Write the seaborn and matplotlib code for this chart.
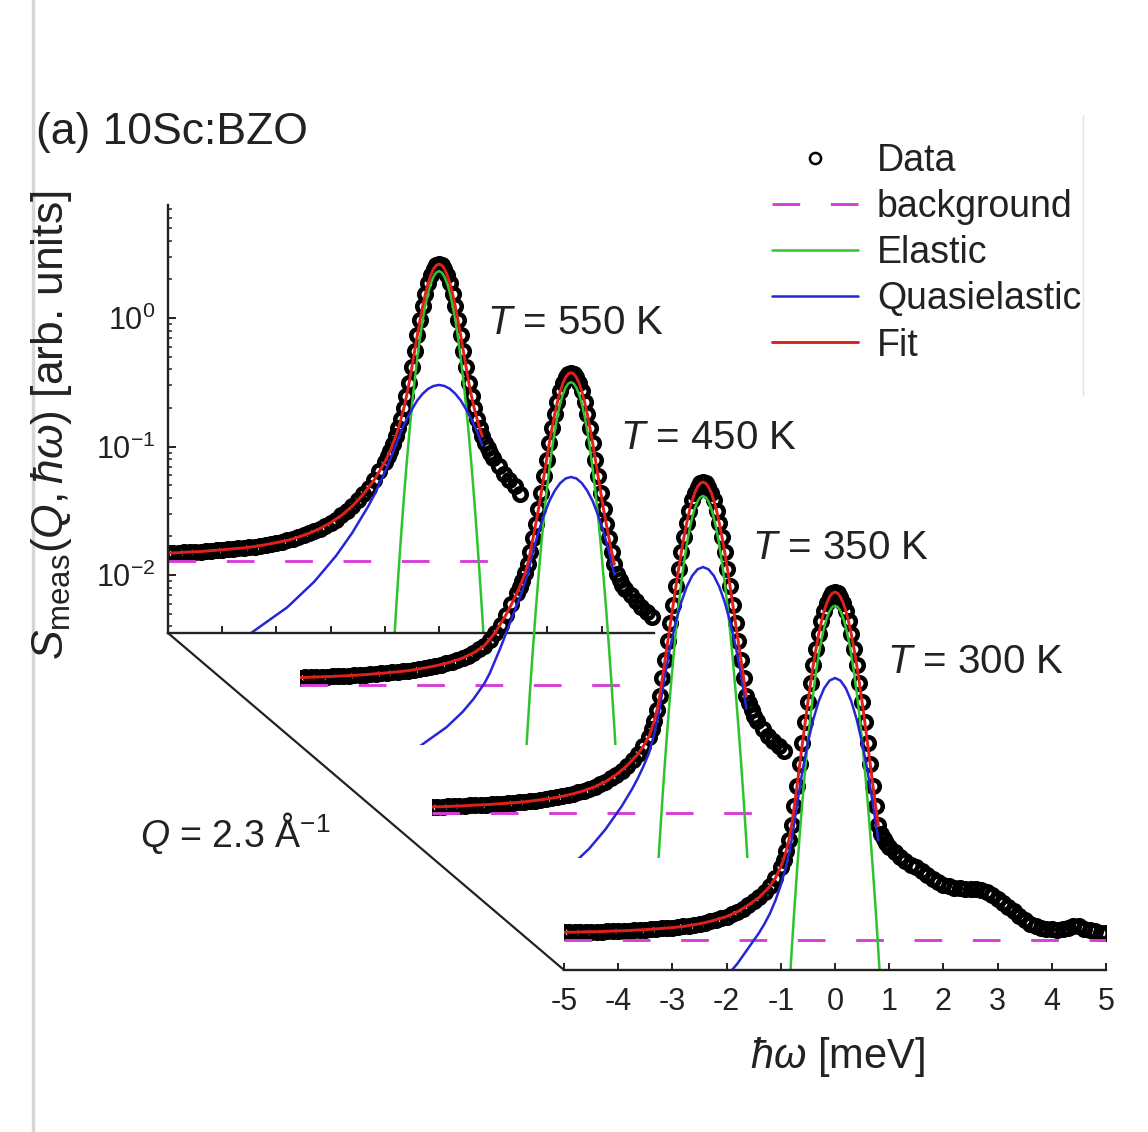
import numpy as np
import matplotlib
matplotlib.use("Agg")
import matplotlib.pyplot as plt
import seaborn as sns
from matplotlib.lines import Line2D
from matplotlib.ticker import FixedLocator, LogLocator, NullFormatter

# ---------------- data (log10 of S_meas) ----------------
temperatures = ["550", "450", "350", "300"]
t_labels = [r"$T$ = 550 K", r"$T$ = 450 K", r"$T$ = 350 K", r"$T$ = 300 K"]

# energy samplings (meV)
E_back = np.round(np.concatenate([np.arange(-5.0, -1.05, 0.1), np.arange(-1.0, 1.001, 0.05),
                                  np.arange(1.1, 1.51, 0.1)]), 2)
E_front = np.round(np.concatenate([np.arange(-5.0, -1.05, 0.1), np.arange(-1.0, 1.001, 0.05),
                                   np.arange(1.1, 5.01, 0.1)]), 2)
E_fit = np.round(np.concatenate([np.arange(-5.0, -1.15, 0.2), [-1.1], np.arange(-1.0, 0.801, 0.05)]), 2)
E_el = np.round(np.arange(-0.9, 0.901, 0.05), 2)
qe_start = [-3.6, -2.9, -2.4, -2.0]

# measured data, log10 S
data_550 = [-1.829, -1.827, -1.825, -1.823, -1.820, -1.818, -1.816, -1.812, -1.809, -1.806,
            -1.803, -1.799, -1.795, -1.792, -1.788, -1.784, -1.777, -1.770, -1.763, -1.755,
            -1.747, -1.739, -1.730, -1.718, -1.704, -1.690, -1.675, -1.659, -1.638, -1.616,
            -1.592, -1.567, -1.535, -1.500, -1.463, -1.419, -1.372, -1.321, -1.262, -1.192,
            -1.119, -1.076, -1.032, -0.977, -0.920, -0.857, -0.783, -0.703, -0.608, -0.502,
            -0.382, -0.258, -0.134, -0.015, 0.094, 0.190, 0.272, 0.336, 0.383, 0.411,
            0.420,
            0.411, 0.383, 0.336, 0.272, 0.190, 0.094, -0.015, -0.134, -0.258, -0.382,
            -0.502, -0.608, -0.703, -0.783, -0.857, -0.920, -0.970, -1.010, -1.050, -1.090,
            -1.150, -1.210, -1.260, -1.310, -1.370]
data_450 = [-1.923, -1.922, -1.920, -1.919, -1.917, -1.915, -1.914, -1.911, -1.910, -1.907,
            -1.905, -1.902, -1.900, -1.897, -1.893, -1.890, -1.886, -1.882, -1.878, -1.874,
            -1.869, -1.863, -1.855, -1.848, -1.840, -1.831, -1.822, -1.813, -1.800, -1.786,
            -1.771, -1.752, -1.731, -1.703, -1.675, -1.632, -1.574, -1.511, -1.435, -1.354,
            -1.267, -1.220, -1.171, -1.113, -1.041, -0.944, -0.837, -0.726, -0.612, -0.486,
            -0.357, -0.227, -0.099, 0.019, 0.128, 0.223, 0.303, 0.367, 0.413, 0.440,
            0.450,
            0.440, 0.413, 0.367, 0.303, 0.223, 0.128, 0.019, -0.099, -0.227, -0.357,
            -0.486, -0.612, -0.726, -0.837, -0.944, -1.041, -1.120, -1.160, -1.200, -1.230,
            -1.280, -1.330, -1.370, -1.410, -1.450]
data_350 = [-2.055, -2.054, -2.053, -2.051, -2.050, -2.048, -2.046, -2.044, -2.041, -2.040,
            -2.038, -2.035, -2.032, -2.029, -2.026, -2.023, -2.020, -2.016, -2.011, -2.007,
            -2.000, -1.994, -1.988, -1.980, -1.973, -1.965, -1.954, -1.943, -1.930, -1.917,
            -1.899, -1.879, -1.859, -1.832, -1.804, -1.773, -1.734, -1.693, -1.643, -1.582,
            -1.509, -1.452, -1.385, -1.302, -1.194, -1.051, -0.909, -0.768, -0.625, -0.482,
            -0.340, -0.203, -0.073, 0.047, 0.155, 0.250, 0.329, 0.391, 0.436, 0.463,
            0.472,
            0.463, 0.436, 0.391, 0.329, 0.250, 0.155, 0.047, -0.073, -0.203, -0.340,
            -0.482, -0.625, -0.768, -0.909, -1.051, -1.194, -1.250, -1.300, -1.350, -1.390,
            -1.450, -1.500, -1.540, -1.580, -1.620]
data_300 = [-2.157, -2.156, -2.156, -2.154, -2.153, -2.153, -2.152, -2.151, -2.149, -2.148,
            -2.146, -2.144, -2.143, -2.140, -2.138, -2.137, -2.133, -2.131, -2.127, -2.124,
            -2.120, -2.116, -2.111, -2.105, -2.098, -2.090, -2.082, -2.072, -2.060, -2.047,
            -2.034, -2.016, -1.997, -1.972, -1.945, -1.917, -1.885, -1.846, -1.799, -1.734,
            -1.646, -1.592, -1.521, -1.436, -1.323, -1.175, -1.015, -0.849, -0.684, -0.522,
            -0.365, -0.215, -0.076, 0.051, 0.164, 0.262, 0.343, 0.407, 0.453, 0.481,
            0.490,
            0.481, 0.453, 0.407, 0.343, 0.262, 0.164, 0.051, -0.076, -0.215, -0.365,
            -0.522, -0.684, -0.849, -1.015, -1.175, -1.323, -1.390, -1.430, -1.460, -1.490,
            -1.530, -1.570, -1.600, -1.630, -1.650, -1.680, -1.710, -1.740, -1.765, -1.790,
            -1.800, -1.810, -1.815, -1.820, -1.820, -1.820, -1.830, -1.845, -1.870, -1.900,
            -1.930, -1.960, -1.990, -2.030, -2.060, -2.090, -2.110, -2.120, -2.130, -2.130,
            -2.140, -2.130, -2.120, -2.110, -2.110, -2.130, -2.140, -2.150, -2.160, -2.160]

# fitted total, log10 S
fit_550 = [-1.829, -1.825, -1.820, -1.816, -1.809, -1.803, -1.795, -1.788, -1.777, -1.763,
           -1.747, -1.730, -1.704, -1.675, -1.638, -1.592, -1.535, -1.463, -1.372, -1.262,
           -1.192,
           -1.119, -1.076, -1.032, -0.977, -0.920, -0.857, -0.783, -0.703, -0.608, -0.502,
           -0.382, -0.258, -0.134, -0.015, 0.094, 0.190, 0.272, 0.336, 0.383, 0.411,
           0.420, 0.411, 0.383, 0.336, 0.272, 0.190, 0.094, -0.015, -0.134, -0.258,
           -0.382, -0.502, -0.608, -0.703, -0.783, -0.857, -0.920]
fit_450 = [-1.923, -1.920, -1.917, -1.914, -1.910, -1.905, -1.900, -1.893, -1.886, -1.878,
           -1.869, -1.855, -1.840, -1.822, -1.800, -1.771, -1.731, -1.675, -1.574, -1.435,
           -1.354,
           -1.267, -1.220, -1.171, -1.113, -1.041, -0.944, -0.837, -0.726, -0.612, -0.486,
           -0.357, -0.227, -0.099, 0.019, 0.128, 0.223, 0.303, 0.367, 0.413, 0.440,
           0.450, 0.440, 0.413, 0.367, 0.303, 0.223, 0.128, 0.019, -0.099, -0.227,
           -0.357, -0.486, -0.612, -0.726, -0.837, -0.944, -1.041]
fit_350 = [-2.055, -2.053, -2.050, -2.046, -2.041, -2.038, -2.032, -2.026, -2.020, -2.011,
           -2.000, -1.988, -1.973, -1.954, -1.930, -1.899, -1.859, -1.804, -1.734, -1.643,
           -1.582,
           -1.509, -1.452, -1.385, -1.302, -1.194, -1.051, -0.909, -0.768, -0.625, -0.482,
           -0.340, -0.203, -0.073, 0.047, 0.155, 0.250, 0.329, 0.391, 0.436, 0.463,
           0.472, 0.463, 0.436, 0.391, 0.329, 0.250, 0.155, 0.047, -0.073, -0.203,
           -0.340, -0.482, -0.625, -0.768, -0.909, -1.051, -1.194]
fit_300 = [-2.157, -2.156, -2.153, -2.152, -2.149, -2.146, -2.143, -2.138, -2.133, -2.127,
           -2.120, -2.111, -2.098, -2.082, -2.060, -2.034, -1.997, -1.945, -1.885, -1.799,
           -1.734,
           -1.646, -1.592, -1.521, -1.436, -1.323, -1.175, -1.015, -0.849, -0.684, -0.522,
           -0.365, -0.215, -0.076, 0.051, 0.164, 0.262, 0.343, 0.407, 0.453, 0.481,
           0.490, 0.481, 0.453, 0.407, 0.343, 0.262, 0.164, 0.051, -0.076, -0.215,
           -0.365, -0.522, -0.684, -0.849, -1.015, -1.175, -1.323]

# elastic component, log10 S (on E_el)
el_550 = [-3.037, -2.670, -2.323, -1.998, -1.693, -1.410, -1.147, -0.906, -0.685, -0.486,
          -0.307, -0.150, -0.013, 0.103, 0.197, 0.271, 0.323, 0.355, 0.365, 0.355,
          0.323, 0.271, 0.197, 0.103, -0.013, -0.150, -0.307, -0.486, -0.685, -0.906,
          -1.147, -1.410, -1.693, -1.998, -2.323, -2.670, -3.037]
el_450 = [-3.027, -2.660, -2.313, -1.988, -1.683, -1.400, -1.137, -0.896, -0.675, -0.476,
          -0.297, -0.140, -0.003, 0.113, 0.207, 0.281, 0.333, 0.365, 0.375, 0.365,
          0.333, 0.281, 0.207, 0.113, -0.003, -0.140, -0.297, -0.476, -0.675, -0.896,
          -1.137, -1.400, -1.683, -1.988, -2.313, -2.660, -3.027]
el_350 = [-3.038, -2.671, -2.324, -1.999, -1.694, -1.411, -1.148, -0.907, -0.686, -0.487,
          -0.308, -0.151, -0.014, 0.102, 0.196, 0.270, 0.322, 0.354, 0.364, 0.354,
          0.322, 0.270, 0.196, 0.102, -0.014, -0.151, -0.308, -0.487, -0.686, -0.907,
          -1.148, -1.411, -1.694, -1.999, -2.324, -2.671, -3.038]
el_300 = [-3.018, -2.651, -2.304, -1.979, -1.674, -1.391, -1.128, -0.887, -0.666, -0.467,
          -0.288, -0.131, 0.006, 0.122, 0.216, 0.290, 0.342, 0.374, 0.384, 0.374,
          0.342, 0.290, 0.216, 0.122, 0.006, -0.131, -0.288, -0.467, -0.666, -0.887,
          -1.128, -1.391, -1.674, -1.979, -2.304, -2.651, -3.018]

# quasielastic component, log10 S (from qe_start to 0.8 meV, step 0.1)
qe_550 = [-2.48, -2.46, -2.43, -2.40, -2.37, -2.34, -2.31, -2.28, -2.25, -2.21,
          -2.17, -2.13, -2.09, -2.05, -2.00, -1.95, -1.90, -1.85, -1.79, -1.73,
          -1.67, -1.60, -1.53, -1.46, -1.38, -1.29, -1.20, -1.10, -0.99, -0.88,
          -0.79, -0.71, -0.64, -0.588, -0.55, -0.528, -0.52, -0.528, -0.55, -0.588,
          -0.64, -0.71, -0.79, -0.88, -0.99]
qe_450 = [-2.49, -2.46, -2.43, -2.40, -2.37, -2.34, -2.31, -2.27, -2.23, -2.19,
          -2.14, -2.09, -2.03, -1.97, -1.89, -1.79, -1.69, -1.58, -1.47, -1.36,
          -1.25, -1.12, -0.94, -0.79, -0.66, -0.55, -0.469, -0.41, -0.374, -0.362,
          -0.374, -0.41, -0.469, -0.55, -0.66, -0.79, -0.94, -1.12]
qe_350 = [-2.50, -2.46, -2.42, -2.38, -2.33, -2.28, -2.23, -2.17, -2.11, -2.05,
          -1.98, -1.91, -1.83, -1.74, -1.64, -1.49, -1.29, -1.02, -0.80, -0.614,
          -0.461, -0.342, -0.257, -0.206, -0.189, -0.206, -0.257, -0.342, -0.461, -0.614,
          -0.80, -1.02, -1.29]
qe_300 = [-2.50, -2.45, -2.40, -2.34, -2.28, -2.22, -2.16, -2.09, -2.01, -1.91,
          -1.79, -1.64, -1.44, -1.16, -0.90, -0.68, -0.50, -0.358, -0.258, -0.198,
          -0.178, -0.198, -0.258, -0.358, -0.50, -0.68, -0.90, -1.16, -1.44]

# flat background level (S) and where its dashed line stops (meV)
bg_level = [0.0130, 0.0105, 0.00794, 0.00607]
bg_end = [1.25, 1.25, 1.25, 5.0]

x_ticks = [-5, -4, -3, -2, -1, 0, 1, 2, 3, 4, 5]
y_major = [1e-2, 1e-1, 1e0]

# ---------------- style ----------------
sns.set_theme(style="white")
plt.rcParams["font.family"] = ["Liberation Sans", "DejaVu Sans"]
plt.rcParams["mathtext.fontset"] = "custom"
plt.rcParams["mathtext.rm"] = "Liberation Sans"
plt.rcParams["mathtext.it"] = "Liberation Sans:italic"
plt.rcParams["mathtext.bf"] = "Liberation Sans:bold"
plt.rcParams["mathtext.sf"] = "Liberation Sans"
plt.rcParams["axes.unicode_minus"] = False
plt.rcParams["text.color"] = "#222222"

INK = "#222222"
C_BG, C_EL, C_QE, C_FIT = "#d83fd8", "#2ec42e", "#2626d8", "#e0201a"

W, H = 1148, 1132
fig = plt.figure(figsize=(W / 100, H / 100), dpi=100)
fig.patch.set_facecolor("white")

left0, bottom0 = 168, 633
step_x, step_y = 132, 112.33
pw, ph = 542, 428
ylo, yhi = 10 ** -2.45, 10 ** 0.88

datas = [data_550, data_450, data_350, data_300]
fits = [fit_550, fit_450, fit_350, fit_300]
els = [el_550, el_450, el_350, el_300]
qes = [qe_550, qe_450, qe_350, qe_300]


def S(L):
    return np.power(10.0, np.asarray(L, dtype=float))


axes = []
for k in range(4):
    l = (left0 + step_x * k) / W
    b = 1 - (bottom0 + step_y * k) / H
    ax = fig.add_axes([l, b, pw / W, ph / H])
    ax.patch.set_visible(False)
    ax.set_yscale("log")
    front = (k == 3)
    E_data = E_front if front else E_back
    E_qe = np.round(np.arange(qe_start[k], 0.801, 0.1), 2)
    lab = (lambda s: s) if front else (lambda s: None)

    sns.lineplot(x=E_data, y=S(datas[k]), ax=ax, color="black", marker="o", linestyle="none",
                 markersize=9, markerfacecolor="none", markeredgecolor="black",
                 markeredgewidth=3.3, estimator=None, errorbar=None, legend=False,
                 label=lab("Data"))
    sns.lineplot(x=[-5.0, bg_end[k]], y=[bg_level[k], bg_level[k]], ax=ax, color=C_BG,
                 linewidth=2.1, linestyle=(0, (9.5, 10.5)), estimator=None, errorbar=None,
                 legend=False, label=lab("background"))
    sns.lineplot(x=E_el, y=S(els[k]), ax=ax, color=C_EL, linewidth=1.8, estimator=None,
                 errorbar=None, legend=False, label=lab("Elastic"))
    sns.lineplot(x=E_qe, y=S(qes[k]), ax=ax, color=C_QE, linewidth=1.8, estimator=None,
                 errorbar=None, legend=False, label=lab("Quasielastic"))
    sns.lineplot(x=E_fit, y=S(fits[k]), ax=ax, color=C_FIT, linewidth=2.1, estimator=None,
                 errorbar=None, legend=False, label=lab("Fit"))

    ax.set_xlim(-5, 5)
    ax.set_ylim(ylo, yhi)
    ax.set_xlabel("")
    ax.set_ylabel("")
    for side in ["top", "right", "left", "bottom"]:
        ax.spines[side].set_visible(False)
        ax.spines[side].set_color(INK)
        ax.spines[side].set_linewidth(1.7)
    ax.tick_params(axis="both", which="both", left=False, bottom=False,
                   labelleft=False, labelbottom=False)
    axes.append(ax)

# back panel: y axis and truncated x axis
ax0 = axes[0]
ax0.spines["left"].set_visible(True)
ax0.spines["bottom"].set_visible(True)
ax0.spines["bottom"].set_bounds(-5, 3.96)
ax0.set_xticks(x_ticks[1:9])
ax0.tick_params(axis="x", which="major", bottom=True, direction="in", length=5, width=1.4,
                color=INK, labelbottom=False)
ax0.yaxis.set_major_locator(FixedLocator(y_major))
ax0.yaxis.set_minor_locator(LogLocator(base=10.0, subs=np.arange(2, 10), numticks=20))
ax0.yaxis.set_minor_formatter(NullFormatter())
ax0.tick_params(axis="y", which="major", left=True, labelleft=True, direction="in",
                length=6, width=1.4, color=INK, labelsize=22, labelcolor=INK, pad=9)
ax0.tick_params(axis="y", which="minor", left=True, direction="in", length=3.2,
                width=1.1, color=INK)

# front panel: energy axis
ax3 = axes[3]
ax3.spines["bottom"].set_visible(True)
ax3.set_xticks(x_ticks)
ax3.tick_params(axis="x", which="major", bottom=True, labelbottom=True, direction="in",
                length=5, width=1.4, color=INK, labelsize=22, labelcolor=INK, pad=12)

# perspective edge joining the back and front axes
fig.add_artist(Line2D([left0 / W, (left0 + 3 * step_x) / W],
                      [1 - bottom0 / H, 1 - (bottom0 + 3 * step_y) / H],
                      color=INK, linewidth=1.6, transform=fig.transFigure))
# faint page rules of the original figure
fig.add_artist(Line2D([33 / W, 33 / W], [0, 1], color="#d6d6d6", linewidth=2.5,
                      transform=fig.transFigure))
fig.add_artist(Line2D([1083 / W, 1083 / W], [1 - 115 / H, 1 - 395 / H], color="#e2e2e2",
                      linewidth=1.0, transform=fig.transFigure))

# texts
fig.text(36 / W, 1 - 133 / H, "(a) 10Sc:BZO", fontsize=32, ha="left", va="center")
t_pos = [(487, 323), (620, 438), (752, 548), (887, 662)]
for (tx, ty), s in zip(t_pos, t_labels):
    fig.text(tx / W, 1 - ty / H, s, fontsize=29, ha="left", va="center")
fig.text(140 / W, 1 - 833 / H, r"$Q$ = 2.3 Å$^{-1}$", fontsize=27, ha="left", va="center")
fig.text(837 / W, 1 - 1057 / H, r"$ħω$ [meV]", fontsize=30, ha="center", va="center")
fig.text(52 / W, 1 - 425 / H, r"$S_{\mathrm{meas}}(Q,ħω)$ [arb. units]", fontsize=32,
         rotation=90, ha="center", va="center")

# legend
handles, labels = ax3.get_legend_handles_labels()
leg = fig.legend(handles, labels, loc="upper left", bbox_to_anchor=(772 / W, 1 - 143 / H),
                 bbox_transform=fig.transFigure, frameon=False, fontsize=27,
                 handlelength=2.3, handletextpad=0.5, labelspacing=0.27, borderpad=0,
                 borderaxespad=0)
leg.legend_handles[0].set_markeredgewidth(1.8)
leg.legend_handles[0].set_markersize(8)

fig.savefig("out.png", dpi=100, facecolor="white")
